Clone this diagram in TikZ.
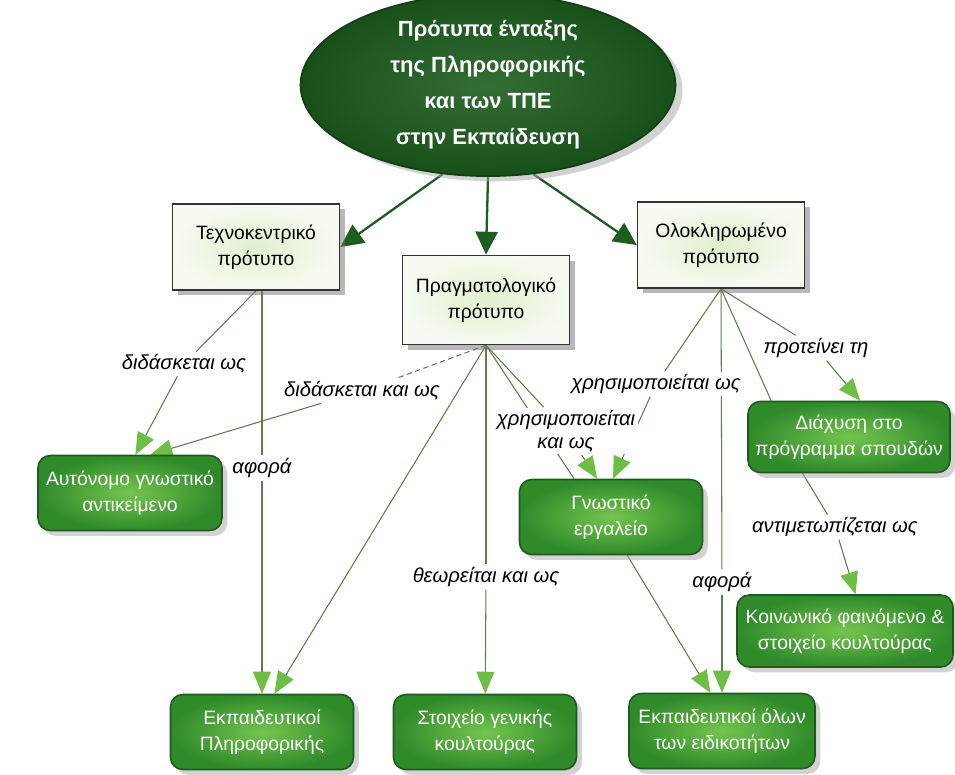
\documentclass[tikz,border=0pt]{standalone}
\usepackage{fontspec}
\setmainfont{Liberation Sans}
\usepackage{xcolor}
\usetikzlibrary{shapes.geometric, arrows.meta, positioning, calc, shadows, backgrounds}
\definecolor{rootgreen}{HTML}{1C5E1E}
\definecolor{rootedge}{HTML}{123F14}
\definecolor{boxgreen}{HTML}{2F8A2A}
\definecolor{glowgreen}{HTML}{74C54E}
\definecolor{edgegreen}{HTML}{1E5A1E}
\definecolor{palegreen}{HTML}{E1F0CF}
\definecolor{linegreen}{HTML}{5E7D4C}
\definecolor{tipgreen}{HTML}{6CBF44}

\begin{document}
\begin{tikzpicture}[
  x=0.02cm, y=-0.02cm,
  goal/.style={
    ellipse,
    draw=rootedge,
    line width=1pt,
    inner color=rootgreen!90!white,
    outer color=rootgreen!85!black,
    minimum width=7.5cm,
    minimum height=3.16cm,
    inner sep=0pt,
    align=center,
    text=white,
    font=\fontsize{12.5}{20.5}\selectfont\bfseries,
    drop shadow={shadow xshift=4pt, shadow yshift=-3pt, fill=black!35}
  },
  model/.style={
    rectangle,
    draw=black!80,
    line width=0.9pt,
    inner color=palegreen,
    outer color=palegreen!30!white,
    minimum width=3.34cm,
    minimum height=1.72cm,
    align=center,
    font=\fontsize{11}{15}\selectfont,
    drop shadow={shadow xshift=3pt, shadow yshift=-3pt, fill=black!55}
  },
  topic/.style={
    rectangle,
    rounded corners=7pt,
    draw=edgegreen,
    line width=0.9pt,
    inner color=glowgreen,
    outer color=boxgreen,
    text=white,
    minimum width=3.66cm,
    minimum height=1.5cm,
    align=center,
    font=\fontsize{11}{15}\selectfont,
    drop shadow={shadow xshift=3pt, shadow yshift=-3pt, fill=black!35}
  },
  phrase/.style={
    fill=white,
    inner sep=1.5pt,
    align=center,
    font=\fontsize{11.5}{13}\selectfont\itshape
  },
  main/.style={
    -{Triangle[length=4.6mm, width=4.4mm]},
    line width=1.3pt,
    draw=rootgreen
  },
  link/.style={
    line width=0.6pt,
    draw=linegreen
  },
  rel/.style={
    link,
    -{Triangle[length=4.4mm, width=3.6mm, color=tipgreen]}
  }
]
\useasboundingbox (0,0) rectangle (955,774);

% Concepts
\node[goal] (root) at (488,85) {Πρότυπα ένταξης\\της Πληροφορικής\\και των ΤΠΕ\\στην Εκπαίδευση};

\node[model] (techno)   at (256,247) {Τεχνοκεντρικό\\πρότυπο};
\node[model, minimum height=1.78cm] (pragma) at (486,300) {Πραγματολογικό\\πρότυπο};
\node[model] (holistic) at (721,245) {Ολοκληρωμένο\\πρότυπο};

\node[topic, minimum width=3.68cm] (autonomous) at (130,493) {Αυτόνομο γνωστικό\\αντικείμενο};
\node[topic] (cogtool) at (611,517) {Γνωστικό\\εργαλείο};
\node[topic, minimum width=4.04cm, minimum height=1.42cm] (diffusion) at (849,437) {Διάχυση στο\\πρόγραμμα σπουδών};
\node[topic, minimum width=4.32cm, minimum height=1.44cm] (social) at (845,631) {Κοινωνικό φαινόμενο \&\\στοιχείο κουλτούρας};
\node[topic] (csteachers) at (262,732) {Εκπαιδευτικοί\\Πληροφορικής};
\node[topic] (culture)    at (485,732) {Στοιχείο γενικής\\κουλτούρας};
\node[topic, minimum width=3.72cm] (allteachers) at (722,731) {Εκπαιδευτικοί όλων\\των ειδικοτήτων};

% Linking phrases
\node[phrase] (taught)     at (184,364) {διδάσκεται ως};
\node[phrase] (alsotaught) at (362,391) {διδάσκεται και ως};
\node[phrase] (concerns1)  at (262,468) {αφορά};
\node[phrase] (seen)       at (486,577) {θεωρείται και ως};
\node[phrase] (alsoused)   at (566,431) {χρησιμοποιείται\\και ως};
\node[phrase] (used)       at (656,384) {χρησιμοποιείται ως};
\node[phrase] (concerns2)  at (722,582) {αφορά};
\node[phrase] (proposes)   at (816,348) {προτείνει τη};
\node[phrase] (treated)    at (835,527) {αντιμετωπίζεται ως};

\begin{scope}[on background layer]
\fill[white] (0,0) rectangle (955,774);

% Main branches
\draw[main] (root.243) -- (techno.east);
\draw[main] (root.south) -- (pragma.north);
\draw[main] (root.297) -- (holistic.west);

% Technocentric
\draw[link] (techno.south) -- (taught);
\draw[rel] (taught) -- (autonomous.82);
\draw[link] (techno.south -| concerns1) -- (concerns1);
\draw[rel] (concerns1) -- (csteachers.north);

% Pragmatic
\draw[link, densely dashed] (pragma.south) -- (alsotaught);
\draw[rel] (alsotaught) -- (autonomous.62);
\draw[rel] (pragma.south) -- (csteachers.72);
\draw[link] (pragma.south) -- (seen);
\draw[rel] (seen) -- (culture);
\draw[link] (pragma.south) -- (cogtool.134);
\draw[link] (pragma.south) -- (alsoused);
\draw[rel] (alsoused) -- (cogtool.110);

% Holistic
\draw[link] (holistic.south) -- (used);
\draw[rel] (used) -- (cogtool.87);
\draw[link] (holistic.south) -- (concerns2);
\draw[rel] (concerns2) -- (allteachers.north);
\draw[link] (holistic.south) -- (diffusion.155);
\draw[link] (holistic.south) -- (proposes);
\draw[rel] (proposes) -- (diffusion.73);
\draw[link] (diffusion.218) -- (treated);
\draw[rel] (treated) -- (social.74);
\draw[rel] (cogtool.293) -- (allteachers.107);
\end{scope}

\end{tikzpicture}
\end{document}
